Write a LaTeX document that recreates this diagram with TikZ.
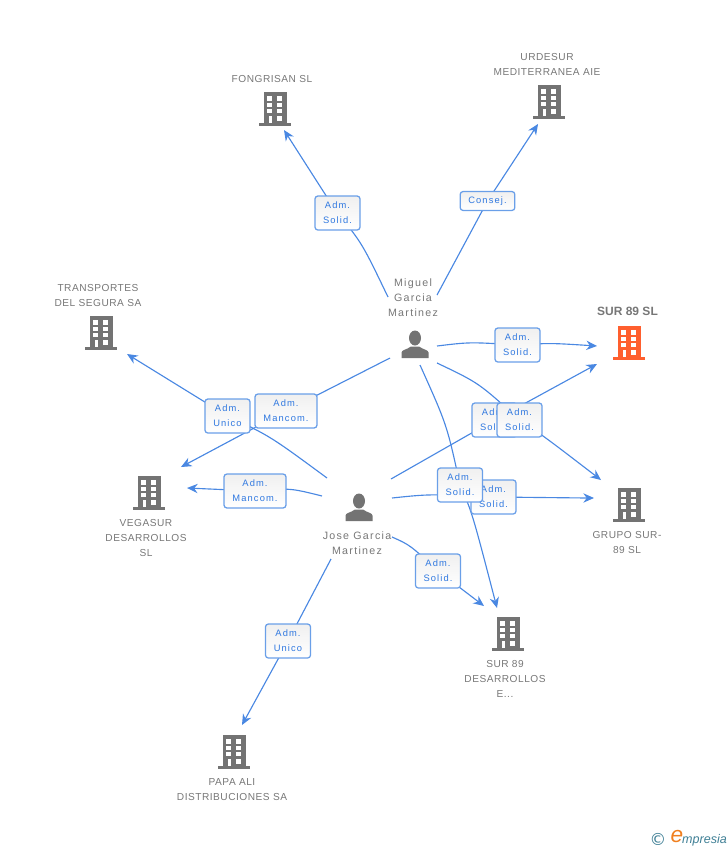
\documentclass[tikz,border=0pt]{standalone}
\usepackage{fontspec}
\setmainfont{Liberation Sans}
\newfontfamily\spaced[LetterSpace=5]{Liberation Sans}
\newfontfamily\wide[LetterSpace=12]{Liberation Sans}
\newfontfamily\logosym{DejaVu Sans}
\usetikzlibrary{arrows.meta}
\definecolor{iconGray}{HTML}{737373}
\definecolor{txtGray}{HTML}{777777}
\definecolor{accent}{HTML}{FF5F2E}
\definecolor{lineBlue}{HTML}{4A88E2}
\definecolor{boxBlue}{HTML}{6A9FE8}
\definecolor{labBlue}{HTML}{2F78E0}
\definecolor{logoTeal}{HTML}{3F7F95}
\definecolor{logoOrange}{HTML}{F08020}
\pgfdeclarelayer{bg}
\pgfsetlayers{bg,main}
\tikzset{
  pics/bldg/.style={code={
    \fill[#1] (-11,-17) rectangle (12,14);
    \fill[#1] (-16,14) rectangle (16,17);
    \fill[white] (-7.7,-13) rectangle (-2.7,-8.3);
    \fill[white] (2.3,-13) rectangle (7.3,-8.3);
    \fill[white] (-7.7,-6.3) rectangle (-2.7,-2.3);
    \fill[white] (2.3,-6.3) rectangle (7.3,-2.3);
    \fill[white] (-7.7,0.3) rectangle (-2.7,4.3);
    \fill[white] (2.3,0.3) rectangle (7.3,4.3);
    \fill[white] (-6.3,7) rectangle (-3,14);
    \fill[white] (2.3,7) rectangle (7.3,11.5);
  }},
  pics/person/.style={code={
    \fill[iconGray] (0,0) ellipse [x radius=6, y radius=7.5];
    \fill[iconGray] (-13.5,20) -- (-13.5,14.5) .. controls (-13.5,12) and (-8,11.5) .. (-4,8.5)
      -- (4,8.5) .. controls (8,11.5) and (13.5,12) .. (13.5,14.5) -- (13.5,20) -- cycle;
  }},
  lbl/.style={draw=boxBlue,line width=.95pt,rounded corners=2.2pt,top color=white!94!black,bottom color=white,
    minimum height=25.5pt,inner sep=0pt,align=center,text=labBlue,
    font=\fontsize{7}{11.25}\selectfont\wide},
  narrowlbl/.style={lbl,minimum width=33.8pt},
  widelbl/.style={lbl,minimum width=46.5pt},
  consejlbl/.style={lbl,minimum width=41pt,minimum height=14.2pt},
  name text/.style={text=txtGray,align=center,inner sep=0pt,
    font=\fontsize{7.6}{11.25}\selectfont\spaced},
  person text/.style={text=txtGray,align=center,inner sep=0pt,
    font=\fontsize{8}{11.25}\selectfont\wide},
  conn/.style={draw=lineBlue,line width=.85pt},
  arr/.style={conn,-{Stealth[length=8pt,width=7pt]}},
}
\begin{document}
\begin{tikzpicture}[x=0.75pt,y=-0.75pt]
\useasboundingbox (0,0) rectangle (728,850);
% icons
\pic at (275,109) {bldg=iconGray};
\pic at (549,102) {bldg=iconGray};
\pic at (101,333) {bldg=iconGray};
\pic at (149,493) {bldg=iconGray};
\pic at (629,343) {bldg=accent};
\pic at (629,505) {bldg=iconGray};
\pic at (508,634) {bldg=iconGray};
\pic at (234,752) {bldg=iconGray};
\pic at (415,338) {person};
\pic at (359,501) {person};
% texts
\node[name text] (tFon) at (272,79) {FONGRISAN SL};
\node[name text] (tUrd) at (547,64) {URDESUR\\MEDITERRANEA AIE};
\node[name text] (tTra) at (98,295.5) {TRANSPORTES\\DEL SEGURA SA};
\node[text=txtGray,inner sep=0pt,font=\fontsize{9}{11.25}\selectfont\bfseries] (tSur) at (627.5,311.5) {SUR 89 SL};
\node[name text] (tGru) at (627,542.5) {GRUPO SUR-\\89 SL};
\node[name text] (tVeg) at (146,538) {VEGASUR\\DESARROLLOS\\SL};
\node[name text] (tDes) at (505,679) {SUR 89\\DESARROLLOS\\E...};
\node[name text] (tPap) at (232,789.5) {PAPA ALI\\DISTRIBUCIONES SA};
\node[person text] (tMig) at (413,298) {Miguel\\Garcia\\Martinez};
\node[person text] (tJos) at (357,543.5) {Jose Garcia\\Martinez};
% connector free ends
\coordinate (mFon) at (388,297); \coordinate (eFon) at (284,130);
\coordinate (mUrd) at (437,295); \coordinate (eUrd) at (538,124);
\coordinate (mSur) at (437,346); \coordinate (eSurA) at (597,346);
\coordinate (mGru) at (437,363); \coordinate (eGruA) at (601,480);
\coordinate (jSur) at (391,479); \coordinate (eSurB) at (597,364);
\coordinate (mDes) at (420,365); \coordinate (eDesA) at (497,608);
\coordinate (jGru) at (392,498); \coordinate (eGruB) at (594,498);
\coordinate (jDes) at (392,537); \coordinate (eDesB) at (484,606);
\coordinate (jVeg) at (322,496); \coordinate (eVegA) at (187,488);
\coordinate (jTra) at (327,478); \coordinate (eTra) at (127,354);
\coordinate (mVeg) at (390,358); \coordinate (eVegB) at (181,467);
\coordinate (jPap) at (331,559); \coordinate (ePap) at (242,725);
% labels
\node[narrowlbl] (lFon) at (337.5,213) {Adm.\\Solid.};
\node[consejlbl] (lUrd) at (487.5,201) {Consej.};
\node[narrowlbl] (lSurA) at (517.5,345) {Adm.\\Solid.};
\node[narrowlbl] (lSurB) at (494.5,420) {Adm.\\Solid.};
\node[narrowlbl] (lGruA) at (519.5,420) {Adm.\\Solid.};
\node[narrowlbl] (lGruB) at (493.5,497) {Adm.\\Solid.};
\node[narrowlbl] (lDesA) at (460,485) {Adm.\\Solid.};
\node[narrowlbl] (lDesB) at (438,571) {Adm.\\Solid.};
\node[narrowlbl] (lTra) at (227.5,416) {Adm.\\Unico};
\node[widelbl] (lVegB) at (286,411) {Adm.\\Mancom.};
\node[widelbl] (lVegA) at (255,491) {Adm.\\Mancom.};
\node[narrowlbl] (lPap) at (288,641) {Adm.\\Unico};
% connectors
\begin{pgfonlayer}{bg}
\draw[conn] (mFon) .. controls (362,243) .. (lFon.center);
\draw[arr] (lFon.center) .. controls (332,205) .. (eFon);
\draw[conn] (mUrd) -- (lUrd.center);
\draw[arr] (lUrd.center) -- (eUrd);
\draw[conn] (mSur) .. controls (470,342) .. (lSurA.center);
\draw[arr] (lSurA.center) .. controls (550,343) .. (eSurA);
\draw[conn] (mGru) .. controls (479,383) .. (lGruA.center);
\draw[arr] (lGruA.center) .. controls (545,437) .. (eGruA);
\draw[conn] (jSur) -- (lSurB.center);
\draw[arr] (lSurB.center) -- (eSurB);
\draw[conn] (mDes) .. controls (447,425) .. (lDesA.center);
\draw[arr] (lDesA.center) .. controls (472,512) .. (eDesA);
\draw[conn] (jGru) .. controls (430,494) .. (lGruB.center);
\draw[arr] (lGruB.center) .. controls (540,498) .. (eGruB);
\draw[conn] (jDes) .. controls (410,545) .. (lDesB.center);
\draw[arr] (lDesB.center) -- (eDesB);
\draw[conn] (jVeg) .. controls (290,488) .. (lVegA.center);
\draw[arr] (lVegA.center) -- (eVegA);
\draw[conn] (jTra) .. controls (270,436) .. (lTra.center);
\draw[arr] (lTra.center) -- (eTra);
\draw[conn] (mVeg) -- (lVegB.center);
\draw[arr] (lVegB.center) -- (eVegB);
\draw[conn] (jPap) -- (lPap.center);
\draw[arr] (lPap.center) -- (ePap);
\end{pgfonlayer}
% logo
\node[text=logoTeal,inner sep=0pt,font=\fontsize{12.5}{13}\logosym] (logoC) at (658,839) {©};
\node[text=logoOrange,inner sep=0pt,font=\fontsize{17}{17}\selectfont\itshape] (logoE) at (677,837) {e};
\node[text=logoTeal,inner sep=0pt,font=\fontsize{9.4}{10}\selectfont\itshape] (logoT) at (704.5,840) {mpresia};
\end{tikzpicture}
\end{document}
